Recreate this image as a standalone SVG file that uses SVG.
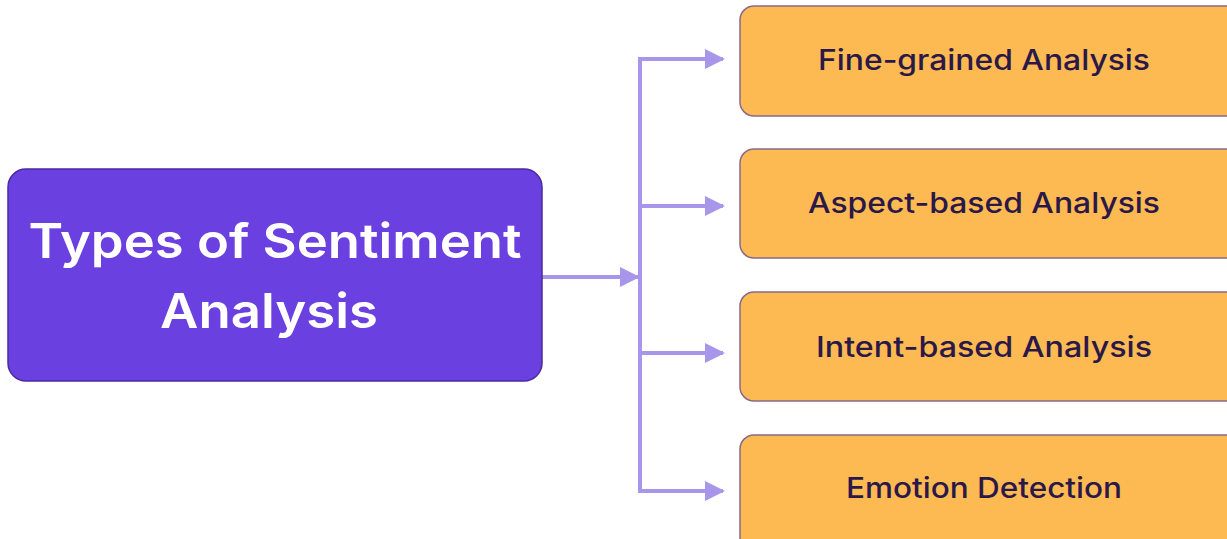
<svg xmlns="http://www.w3.org/2000/svg" width="1227" height="539" viewBox="0 0 1227 539">
<defs>
<style>
.main{fill:#6B40E0;stroke:#4a2aa0;stroke-width:1.5}
.leaf{fill:#FDB952;stroke:#8a6a8a;stroke-width:1.5}
.t1{font-family:Inter,"Noto Sans","Liberation Sans",sans-serif;font-weight:600;font-size:48px;fill:#ffffff;text-anchor:middle}
.t2{font-family:Inter,"Noto Sans","Liberation Sans",sans-serif;font-weight:500;font-size:28px;fill:#2a1848;text-anchor:middle}
.conn{fill:none;stroke:#A896EA;stroke-width:4}
</style>
<marker id="ah" markerWidth="5" markerHeight="5" refX="4.5" refY="2.5" orient="auto" markerUnits="strokeWidth">
<path d="M0,0 L5,2.5 L0,5 Z" fill="#A896EA"/>
</marker>
</defs>
<rect width="1227" height="539" fill="#ffffff"/>
<g id="connectors">
<path class="conn" d="M542,277 H638" marker-end="url(#ah)"/>
<path class="conn" d="M640,59 V491"/>
<path class="conn" d="M638,59 H723" marker-end="url(#ah)"/>
<path class="conn" d="M638,206 H723" marker-end="url(#ah)"/>
<path class="conn" d="M638,353 H723" marker-end="url(#ah)"/>
<path class="conn" d="M638,491 H723" marker-end="url(#ah)"/>
</g>
<g id="node-main">
<rect class="main" x="8" y="169" width="534" height="212" rx="18"/>
<text class="t1" x="275" y="258" textLength="493" lengthAdjust="spacingAndGlyphs">Types of Sentiment</text>
<text class="t1" x="269" y="328" textLength="218" lengthAdjust="spacingAndGlyphs">Analysis</text>
</g>
<g id="node-fine">
<rect class="leaf" x="740" y="6" width="500" height="110" rx="14"/>
<text class="t2" x="984" y="70" textLength="332" lengthAdjust="spacingAndGlyphs">Fine-grained Analysis</text>
</g>
<g id="node-aspect">
<rect class="leaf" x="740" y="149" width="500" height="109" rx="14"/>
<text class="t2" x="984" y="213" textLength="352" lengthAdjust="spacingAndGlyphs">Aspect-based Analysis</text>
</g>
<g id="node-intent">
<rect class="leaf" x="740" y="292" width="500" height="109" rx="14"/>
<text class="t2" x="984" y="357" textLength="336" lengthAdjust="spacingAndGlyphs">Intent-based Analysis</text>
</g>
<g id="node-emotion">
<rect class="leaf" x="740" y="435" width="500" height="120" rx="14"/>
<text class="t2" x="984" y="498" textLength="276" lengthAdjust="spacingAndGlyphs">Emotion Detection</text>
</g>
</svg>
